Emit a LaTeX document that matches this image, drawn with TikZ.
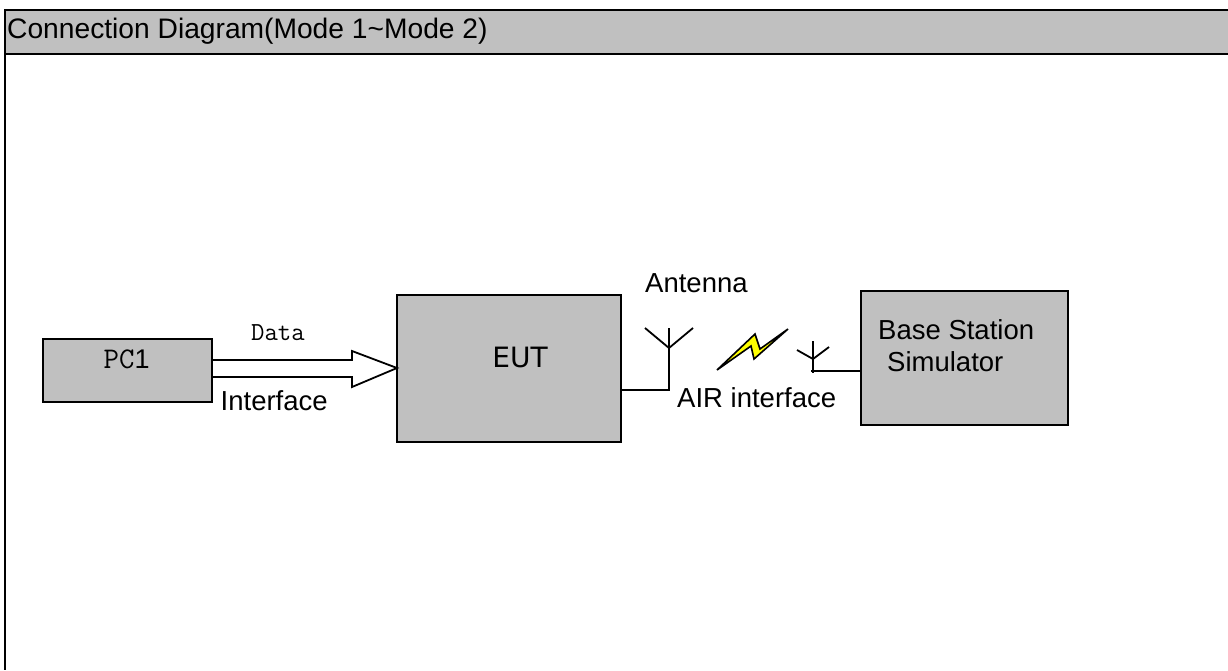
\documentclass[tikz,border=0pt]{standalone}
\usepackage{fontspec}
\setmainfont{Liberation Sans}
\newfontfamily\dejavu{DejaVu Sans}
\newfontfamily\lmmono{Latin Modern Mono}
\newfontfamily\arialf{Liberation Sans}
\definecolor{boxgray}{RGB}{192,192,192}
\definecolor{boltyellow}{RGB}{255,255,0}
\begin{document}
\begin{tikzpicture}[x=1pt,y=-1pt,
  box/.style={draw=black,line width=1.8pt,fill=boxgray},
  wire/.style={draw=black,line width=1.8pt},
  lbl/.style={inner sep=0pt,anchor=base west,font=\fontsize{27.5}{33}\selectfont},
]
\useasboundingbox (0,0) rectangle (1228,670);
% header
\fill[boxgray] (5,10) rectangle (1228,54);
\draw[line width=2.6pt] (1228,10) -- (5,10) -- (5,670);
\draw[line width=2.6pt] (5,54) -- (1228,54);
\node[inner sep=0pt,anchor=base west,font=\fontsize{28.2}{34}\selectfont] (title) at (7,38) {Connection Diagram(Mode 1\textasciitilde Mode 2)};
% boxes
\draw[box] (43,339) rectangle (212,402);
\coordinate (pc) at (212,368.5);
\node[inner sep=0pt,anchor=base west] (pctext) at (103.5,368) {{\fontsize{30}{36}\lmmono PC}{\fontsize{27}{32}\arialf 1}};
\draw[box] (397,295) rectangle (621,442);
\coordinate (eutw) at (397,368);
\coordinate (eute) at (621,390);
\node[inner sep=0pt,anchor=base,font=\fontsize{28}{33}\dejavu] (eut) at (520,367) {EUT};
\draw[box] (861,291) rectangle (1068,425);
\coordinate (bssw) at (861,371);
\node[lbl] (bs1) at (878,339) {Base Station};
\node[lbl] (bs2) at (887,371) {Simulator};
% data arrow
\draw[line width=1.8pt,fill=white,line join=miter] (pc |- 0,360) -- (352,360) -- (352,351) -- (eutw) -- (352,387) -- (352,377) -- (pc |- 0,377) -- cycle;
\node[inner sep=0pt,anchor=base west,font=\fontsize{26}{30}\lmmono] (data) at (251,340) {Data};
\node[lbl] (iface) at (220.5,410) {Interface};
% EUT antenna
\coordinate (a1base) at (669,390);
\coordinate (a1top) at (669,328);
\coordinate (a1j) at (669,348);
\draw[wire] (eute) -- (a1base) -- (a1top);
\draw[wire] (645,328) -- (a1j) -- (693,328);
\node[lbl] (antenna) at (645,292) {Antenna};
% bolt
\draw[fill=boltyellow,line width=1.6pt,line join=miter] (717,370) -- (755,334) -- (760,349) -- (788,329) -- (754,359) -- (751,346) -- cycle;
% BSS antenna
\coordinate (a2j) at (813,359);
\coordinate (a2b) at (811,371);
\draw[wire] (813,341) -- (813,373);
\draw[wire] (797,350) -- (a2j) -- (829,347);
\draw[wire] (a2b) -- (bssw);
\node[lbl] (air) at (677,407) {AIR interface};
\end{tikzpicture}
\end{document}
